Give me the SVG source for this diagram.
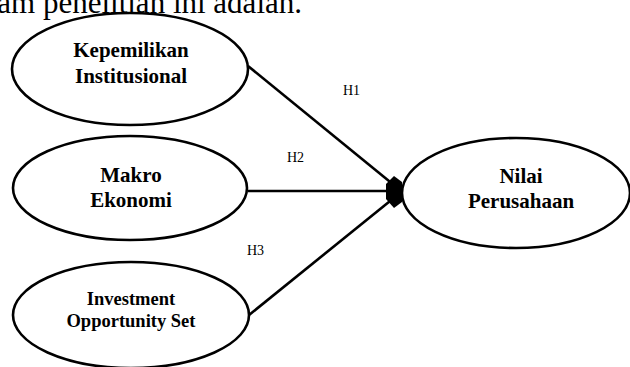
<svg xmlns="http://www.w3.org/2000/svg" width="630" height="367" viewBox="0 0 630 367">
  <defs>
    <marker id="arr" markerWidth="8" markerHeight="8" refX="7" refY="4" orient="auto" markerUnits="userSpaceOnUse" viewBox="0 0 8 8">
      <path d="M0,0 L8,4 L0,8 Z" fill="#000"/>
    </marker>
    <style>
      .node ellipse { fill: #fff; stroke: #000; stroke-width: 2.6; }
      .lbl { font-family: "Liberation Serif", "Times New Roman", serif; font-weight: bold; text-anchor: middle; fill: #000; }
      .h { font-family: "Liberation Serif", "Times New Roman", serif; font-size: 14px; fill: #000; }
      .edge { stroke: #000; stroke-width: 2.6; fill: none; }
    </style>
  </defs>
  <rect width="630" height="367" fill="#fff"/>
  <text x="302" y="13" font-family="Liberation Serif, Times New Roman, serif" font-size="31" text-anchor="end" fill="#000">am penelitian ini adalah.</text>

  <g id="connectors">
    <line class="edge" x1="248" y1="66" x2="400" y2="190" marker-end="url(#arr)"/>
    <line class="edge" x1="248" y1="191" x2="400" y2="191" marker-end="url(#arr)"/>
    <line class="edge" x1="249" y1="315" x2="400" y2="193" marker-end="url(#arr)"/>
    <path d="M386,184 L394,176 L402,182 L402,202 L394,208 L386,199 Z" fill="#000"/>
  </g>

  <g id="node-kepemilikan" class="node">
    <ellipse cx="130" cy="69" rx="118" ry="56"/>
    <text class="lbl" x="131" y="57" font-size="21">Kepemilikan</text>
    <text class="lbl" x="131" y="83" font-size="21">Institusional</text>
  </g>
  <g id="node-makro" class="node">
    <ellipse cx="130" cy="188" rx="117" ry="52"/>
    <text class="lbl" x="131" y="182" font-size="21">Makro</text>
    <text class="lbl" x="131" y="207" font-size="21">Ekonomi</text>
  </g>
  <g id="node-ios" class="node">
    <ellipse cx="131" cy="315" rx="118" ry="53"/>
    <text class="lbl" x="131" y="305" font-size="18.5">Investment</text>
    <text class="lbl" x="131" y="327" font-size="18.5">Opportunity Set</text>
  </g>
  <g id="node-nilai" class="node">
    <ellipse cx="516" cy="193" rx="114" ry="55"/>
    <text class="lbl" x="521" y="183" font-size="21">Nilai</text>
    <text class="lbl" x="521" y="208" font-size="21">Perusahaan</text>
  </g>

  <text class="h" x="343" y="95">H1</text>
  <text class="h" x="287" y="162">H2</text>
  <text class="h" x="247" y="255">H3</text>
</svg>
